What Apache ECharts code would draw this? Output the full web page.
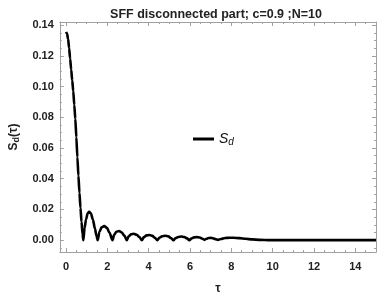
<!DOCTYPE html>
<html>
<head>
<meta charset="utf-8">
<script src="https://cdn.jsdelivr.net/npm/echarts@6/dist/echarts.min.js"></script>
<style>html,body{margin:0;padding:0;background:#fff}#c{width:382px;height:300px}</style>
</head>
<body>
<div id="c"></div>
<script>
// tau values (x) and S_d values (y)
var tau = [0, 0.05, 0.1, 0.15, 0.2, 0.25, 0.3, 0.35, 0.4, 0.45, 0.5, 0.55, 0.6, 0.65, 0.7, 0.75, 0.8, 0.84,
  0.9, 0.97, 1.05, 1.12, 1.2, 1.3, 1.4, 1.47, 1.53,
  1.62, 1.72, 1.85, 1.98, 2.1, 2.25,
  2.33, 2.44, 2.57, 2.7, 2.82, 2.94,
  3.03, 3.15, 3.28, 3.42, 3.55, 3.67,
  3.77, 3.9, 4.03, 4.18, 4.3, 4.42,
  4.52, 4.65, 4.8, 4.95, 5.08, 5.2,
  5.3, 5.43, 5.58, 5.72, 5.85, 5.97,
  6.07, 6.2, 6.33, 6.47, 6.6, 6.7,
  6.8, 6.9, 7.0, 7.12, 7.25, 7.35,
  7.5, 7.7, 7.9, 8.1, 8.4, 8.7, 9.0, 9.4, 9.8, 10.5, 12, 15];
var sd = [0.1355, 0.1345, 0.131, 0.125, 0.118, 0.111, 0.104, 0.097, 0.088, 0.079, 0.067, 0.054, 0.042, 0.031, 0.021, 0.012, 0.004, 0.0,
  0.008, 0.0135, 0.0175, 0.0185, 0.0175, 0.0135, 0.0075, 0.003, 0.0,
  0.0055, 0.0083, 0.0092, 0.008, 0.005, 0.0,
  0.0035, 0.0055, 0.006, 0.005, 0.003, 0.0,
  0.0025, 0.0038, 0.0042, 0.0035, 0.002, 0.0,
  0.002, 0.0031, 0.0034, 0.0028, 0.0016, 0.0,
  0.0016, 0.0026, 0.0029, 0.0025, 0.0014, 0.0,
  0.0013, 0.0021, 0.0024, 0.0021, 0.0012, 0.0,
  0.0011, 0.0018, 0.002, 0.0017, 0.0009, 0.0002,
  0.0009, 0.0014, 0.0015, 0.0012, 0.0006, 0.0002,
  0.0008, 0.0014, 0.0016, 0.0016, 0.0013, 0.0009, 0.0005, 0.0002, 0.00005, 0, 0, 0];
var titleText = 'SFF disconnected part; c=0.9 ;N=10';

var points = tau.map(function (t, i) { return [t, sd[i]]; });
var chart = echarts.init(document.getElementById('c'), null, { renderer: 'canvas' });
var frame = '#a0a0a0';
var lbl = { color: '#222', fontFamily: 'Liberation Sans, Arial', fontWeight: 'bold', fontSize: 11 };
function mkX(pos, show) {
  return {
    type: 'value', position: pos, min: -0.3, max: 15, splitNumber: 7,
    axisLine: { show: true, onZero: false, lineStyle: { color: frame, width: 1 } },
    axisTick: { show: true, inside: true, length: 4, lineStyle: { color: frame } },
    minorTick: { show: true, splitNumber: 4, length: 2, lineStyle: { color: frame } },
    axisLabel: Object.assign({ show: show, margin: 9, showMinLabel: false, showMaxLabel: false }, lbl),
    splitLine: { show: false }, minorSplitLine: { show: false }
  };
}
function mkY(pos, show) {
  return {
    type: 'value', position: pos, min: -0.0077, max: 0.142, splitNumber: 7,
    axisLine: { show: true, onZero: false, lineStyle: { color: frame, width: 1 } },
    axisTick: { show: true, inside: true, length: 4, lineStyle: { color: frame } },
    minorTick: { show: true, splitNumber: 4, length: 2, lineStyle: { color: frame } },
    axisLabel: Object.assign({ show: show, margin: 6, showMinLabel: false, showMaxLabel: false,
      formatter: function (v) { return v.toFixed(2); } }, lbl),
    splitLine: { show: false }, minorSplitLine: { show: false }
  };
}
var xa = mkX('bottom', true);
xa.name = 'τ';
xa.nameLocation = 'middle';
xa.nameGap = 31;
xa.nameTextStyle = { color: '#222', fontFamily: 'Liberation Sans, Arial', fontWeight: 'bold', fontSize: 12 };
var ya = mkY('left', true);
ya.name = '{s|S}{d|d}{p|(τ)}';
ya.nameLocation = 'middle';
ya.nameRotate = 90;
ya.nameGap = 29;
ya.nameTextStyle = {
  rich: {
    s: { fontFamily: 'Liberation Sans, Arial', fontWeight: 'bold', fontSize: 12, color: '#222' },
    d: { fontFamily: 'Liberation Sans, Arial', fontWeight: 'bold', fontSize: 9, color: '#222', verticalAlign: 'bottom', padding: [6, 0, 0, 0] },
    p: { fontFamily: 'Liberation Sans, Arial', fontWeight: 'bold', fontSize: 12, color: '#222' }
  }
};
chart.setOption({
  animation: false,
  backgroundColor: '#fff',
  title: {
    text: titleText, left: 211, textAlign: 'center', top: 3,
    textStyle: { fontFamily: 'Liberation Sans, Arial', fontWeight: 'bold', fontSize: 12.5, color: '#222' }
  },
  grid: { left: 44, top: 22, right: 6, bottom: 44, containLabel: false },
  legend: {
    left: 188, top: 127, icon: 'rect', itemWidth: 21, itemHeight: 3, itemGap: 8,
    data: ['Sd'],
    formatter: function () { return '{s|S}{d|d}'; },
    textStyle: {
      rich: {
        s: { fontFamily: 'Liberation Sans, Arial', fontStyle: 'italic', fontSize: 14, color: '#111' },
        d: { fontFamily: 'Liberation Sans, Arial', fontStyle: 'italic', fontSize: 10, color: '#111', padding: [6, 0, 0, 0] }
      }
    }
  },
  xAxis: [xa, mkX('top', false)],
  yAxis: [ya, mkY('right', false)],
  series: [{
    name: 'Sd', type: 'line', xAxisIndex: 0, yAxisIndex: 0, data: points,
    showSymbol: false, smooth: 0.3, smoothMonotone: 'x',
    lineStyle: { color: '#000', width: 2.6 }, itemStyle: { color: '#000' }
  }]
});
</script>
</body>
</html>
